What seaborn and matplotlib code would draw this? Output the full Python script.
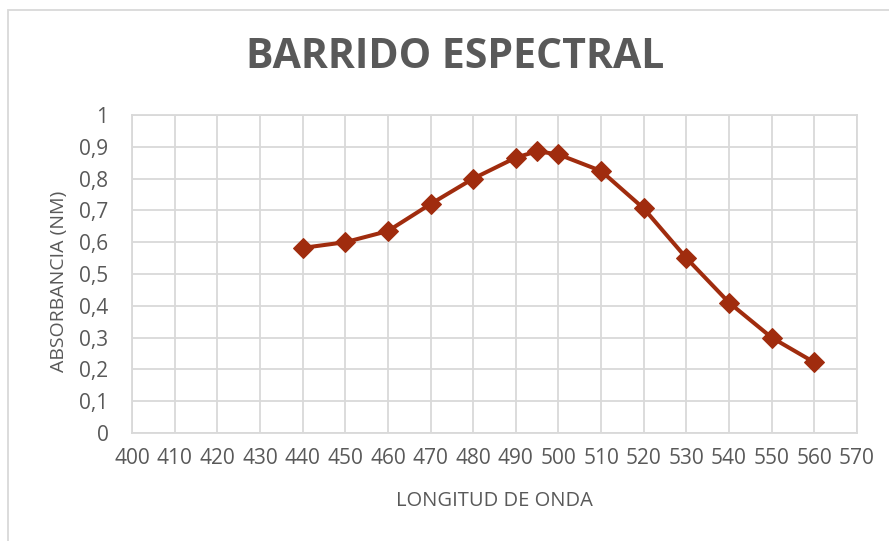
import matplotlib
matplotlib.use("Agg")
import matplotlib.pyplot as plt
import seaborn as sns
import pandas as pd
from matplotlib.patches import Rectangle
from matplotlib.ticker import FuncFormatter

wavelength = [440, 450, 460, 470, 480, 490, 495, 500, 510, 520, 530, 540, 550, 560]
absorbance = [0.582, 0.600, 0.635, 0.720, 0.800, 0.866, 0.886, 0.876, 0.824, 0.706, 0.550, 0.410, 0.300, 0.222]
x_ticks = list(range(400, 571, 10))
y_ticks = [0, 0.1, 0.2, 0.3, 0.4, 0.5, 0.6, 0.7, 0.8, 0.9, 1.0]

title = "BARRIDO ESPECTRAL"
xlabel = "LONGITUD DE ONDA"
ylabel = "ABSORBANCIA (NM)"

sns.set_theme(style="white")
plt.rcParams['font.family'] = ['Open Sans', 'DejaVu Sans']

TXT = '#595959'
GRID = '#D9D9D9'
LINE = '#A02C0E'

df = pd.DataFrame({"x": wavelength, "y": absorbance})

fig = plt.figure(figsize=(8.89, 5.41), dpi=100)
ax = fig.add_axes([132/889, 1-433/541, (857-132)/889, (433-115)/541])

sns.lineplot(data=df, x="x", y="y", ax=ax, color=LINE, linewidth=2.9,
             marker='D', markersize=10, markeredgecolor=LINE, markerfacecolor=LINE)

ax.set_xlim(400, 570)
ax.set_ylim(0, 1)
ax.set_xticks(x_ticks)
ax.set_yticks(y_ticks)
ax.yaxis.set_major_formatter(FuncFormatter(lambda v, p: ('%g' % round(v, 1)).replace('.', ',')))
ax.grid(True, color=GRID, linewidth=1.3)
ax.set_axisbelow(True)
for s in ax.spines.values():
    s.set_color(GRID)
    s.set_linewidth(1.3)
ax.tick_params(axis='both', length=0, labelsize=15, colors=TXT)
ax.tick_params(axis='y', pad=17)
ax.tick_params(axis='x', pad=11)

ax.set_xlabel(xlabel, fontsize=14.5, color=TXT, labelpad=16)
ax.set_ylabel(ylabel, fontsize=14, color=TXT)
ax.yaxis.set_label_coords((68 - 132) / (857 - 132), (433 - 281) / 318)

fig.text(455/889, 1-58/541, title, ha='center', va='center', fontsize=29.5,
         fontweight='bold', color=TXT)

fig.patches.append(Rectangle((8/889, -0.1), 1.2, 1 - 10/541 + 0.1, transform=fig.transFigure,
                             fill=False, edgecolor=GRID, linewidth=1.3))

fig.savefig("out.png", dpi=100)
